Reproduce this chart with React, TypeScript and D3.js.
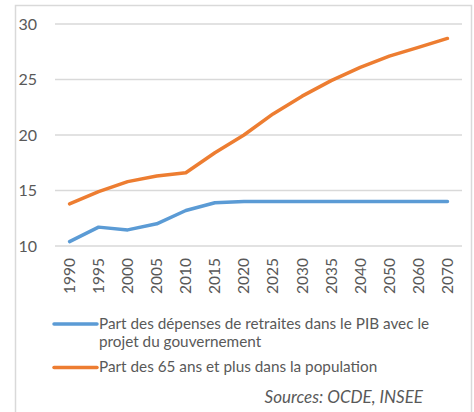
import React from "react";
import * as d3 from "d3";

const years = ["1990", "1995", "2000", "2005", "2010", "2015", "2020", "2025", "2030", "2035", "2040", "2050", "2060", "2070"];
const pensionShare = [10.4, 11.7, 11.45, 12.0, 13.2, 13.9, 14.0, 14.0, 14.0, 14.0, 14.0, 14.0, 14.0, 14.0];
const over65Share = [13.8, 14.9, 15.8, 16.3, 16.6, 18.4, 20.0, 21.9, 23.5, 24.9, 26.1, 27.1, 27.9, 28.7];
const yTicks = [10, 15, 20, 25, 30];

const blue = "#5B9BD5";
const orange = "#ED7D31";
const font = "Lato, 'Open Sans', sans-serif";

const App = () => {
  const width = 474;
  const height = 412;
  const left = 55;
  const right = 462;

  const x = d3.scaleBand().domain(years).range([left, right]);
  const y = d3.scaleLinear().domain([10, 30]).range([246, 24]);
  const cx = (yr) => x(yr) + x.bandwidth() / 2;

  const line = d3
    .line<number>()
    .x((d, i) => cx(years[i]))
    .y((d) => y(d));

  return (
    <svg
      width={width}
      height={height}
      style={{ position: "absolute", left: 0, top: 0, background: "#fff" }}
    >
      <rect x={15.5} y={5.5} width={456} height={420} fill="#fff" stroke="#d9d9d9" strokeWidth={1.5} />

      {yTicks.map((t) => (
        <g key={t}>
          <line x1={left} x2={right} y1={y(t)} y2={y(t)} stroke="#d9d9d9" strokeWidth={1.5} />
          <text x={37} y={y(t)} dy="0.35em" textAnchor="end" fontFamily={font} fontSize={16} fill="#595959">
            {t}
          </text>
        </g>
      ))}

      {years.map((yr) => (
        <text
          key={yr}
          transform={`translate(${cx(yr)},258) rotate(-90)`}
          dy="0.35em"
          textAnchor="end"
          fontFamily={font}
          fontSize={15.5}
          fill="#595959"
        >
          {yr}
        </text>
      ))}

      <path d={line(pensionShare)} fill="none" stroke={blue} strokeWidth={3.5} strokeLinejoin="round" strokeLinecap="round" />
      <path d={line(over65Share)} fill="none" stroke={orange} strokeWidth={3.5} strokeLinejoin="round" strokeLinecap="round" />

      <g fontFamily={font} fontSize={15.3} fill="#595959">
        <line x1={54} x2={97} y1={324} y2={324} stroke={blue} strokeWidth={3.5} strokeLinecap="round" />
        <text x={99} y={329}>Part des dépenses de retraites dans le PIB avec le</text>
        <text x={99} y={347}>projet du gouvernement</text>
        <line x1={54} x2={97} y1={367.5} y2={367.5} stroke={orange} strokeWidth={3.5} strokeLinecap="round" />
        <text x={99} y={372}>Part des 65 ans et plus dans la population</text>
        <text x={423} y={403} textAnchor="end" fontStyle="italic" fontSize={17}>Sources: OCDE, INSEE</text>
      </g>
    </svg>
  );
};

export default App;
